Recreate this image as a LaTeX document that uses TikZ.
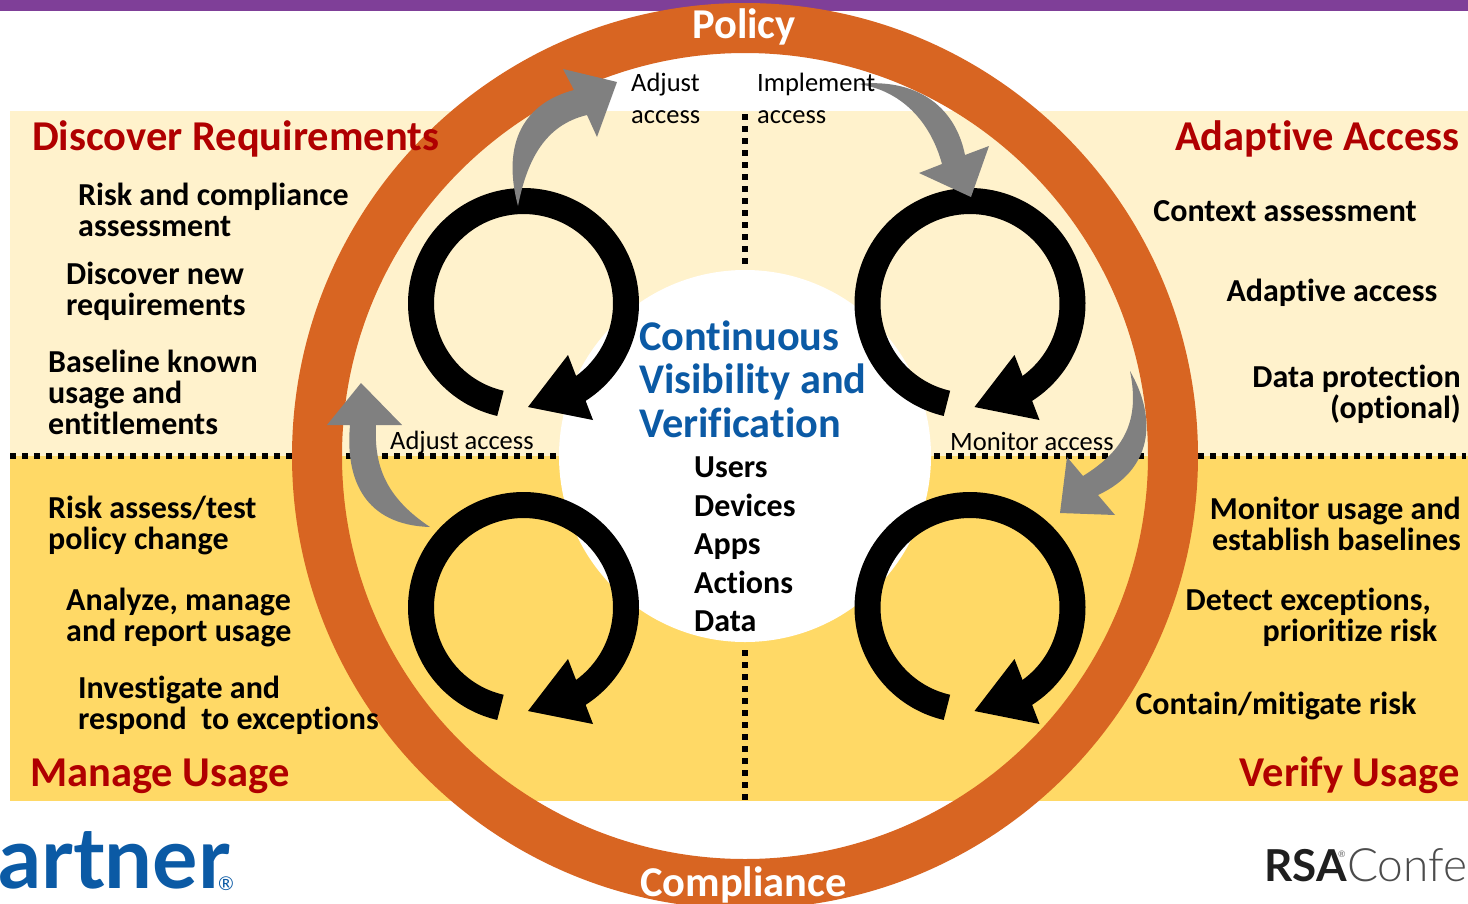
\documentclass[tikz,border=0pt]{standalone}
\usepackage{fontspec}
\setmainfont{Carlito}[Ligatures={NoCommon,TeX}]
\newfontfamily\logofont{Lato}
\newfontfamily\lightfont{Lato Light}
\definecolor{purplebar}{HTML}{7F3F98}
\definecolor{ringor}{HTML}{D86522}
\definecolor{lightband}{HTML}{FFF2CC}
\definecolor{darkband}{HTML}{FFD966}
\definecolor{headred}{HTML}{B00000}
\definecolor{blueh}{HTML}{0B5AA5}
\definecolor{grayarrow}{HTML}{808080}
\newcommand{\px}[1]{\fontsize{#1}{#1}\selectfont}
\tikzset{
  headtext/.style={inner sep=0pt,font=\px{42.5}\bfseries,text=headred},
  bodyl/.style={inner sep=0pt,anchor=west,align=left,font=\fontsize{32}{31}\selectfont\bfseries},
  bodyr/.style={inner sep=0pt,anchor=east,align=right,font=\fontsize{32}{31}\selectfont\bfseries},
  regtext/.style={inner sep=0pt,anchor=west,align=left,font=\fontsize{26.5}{32}\selectfont},
  dotline/.style={line width=5.5pt,dash pattern=on 6pt off 6pt},
  blackring/.style={line width=26pt,black},
  blackhead/.style={fill=black,draw=none},
  grayshape/.style={fill=grayarrow,draw=none},
  ringtext/.style={inner sep=0pt,text=white,font=\px{42.5}\bfseries},
  itemtext/.style={inner sep=0pt,anchor=base west,font=\px{32}\bfseries},
}
\begin{document}
\begin{tikzpicture}[x=1pt,y=-1pt]
\useasboundingbox (0,0) rectangle (1468,903);
\fill[white] (0,0) rectangle (1468,903);
\fill[purplebar] (0,0) rectangle (1468,11);
\fill[lightband] (10,111) rectangle (1468,456);
\fill[darkband] (10,456) rectangle (1468,800.5);
% dotted dividers
\coordinate (hl) at (10,456); \coordinate (hr) at (1466,456);
\coordinate (vt) at (745,114); \coordinate (vtb) at (745,268);
\coordinate (vb) at (745,650); \coordinate (vbb) at (745,802);
\draw[dotline] (hl) -- (hr);
\draw[dotline] (vt) -- (vtb);
\draw[dotline] (vb) -- (vbb);
% centre and ring
\coordinate (cc) at (745,456);
\fill[white] (cc) circle[radius=186];
\begin{scope}
\clip (0,0) rectangle (1468,903);
\draw[ringor,line width=50pt] (cc) circle[radius=428];
\end{scope}
% black cycles
\foreach \cx/\cy in {523.5/303.5,970/303.5,523.5/607.5,970/607.5}{
  \draw[blackring] plot[smooth,domain=103:420,samples=80] ({\cx+102.5*cos(\x)},{\cy+102.5*sin(\x)});
  \fill[blackhead] (\cx+4.5,\cy+103.5) -- (\cx+44.5,\cy+51.5) -- (\cx+69.5,\cy+116.5) -- cycle;
}
% grey arrows
\fill[grayshape] (518,206) .. controls (503,150) and (518,105) .. (574,90) -- (563,69) -- (617,82) -- (597,137) -- (587,115) .. controls (545,125) and (527,160) .. cycle;
\fill[grayshape] (858,84) .. controls (915,78) and (955,105) .. (965,155) -- (989,146) -- (971,197) -- (919,173) -- (942,164) .. controls (930,120) and (900,90) .. cycle;
\fill[grayshape] (430,527) .. controls (365,525) and (345,480) .. (350,425) -- (327,425) -- (361,383) -- (402,425) -- (376,425) .. controls (374,465) and (385,497) .. cycle;
\fill[grayshape] (1130,371) .. controls (1158,420) and (1152,470) .. (1098,495) -- (1115,515) -- (1060,513) -- (1067,457) -- (1083,476) .. controls (1125,450) and (1140,420) .. cycle;
% ring labels
\node[ringtext,anchor=base] (policy) at (744,38) {Policy};
\node[ringtext,anchor=base] (compl) at (743.5,896) {Compliance};
% headings
\node[headtext,anchor=base west] (h1) at (32,150) {Discover Requirements};
\node[headtext,anchor=base east] (h2) at (1460,150) {Adaptive Access};
\node[headtext,anchor=base west] (h3) at (30,786) {Manage Usage};
\node[headtext,anchor=base east] (h4) at (1460,786) {Verify Usage};
% left text
\node[bodyl] (l1) at (78,209.5) {Risk and compliance\\assessment};
\node[bodyl] (l2) at (66,291.5) {Discover new\\requirements};
\node[bodyl] (l3) at (48,392) {Baseline known\\usage and\\entitlements};
\node[bodyl] (l4) at (48,525) {Risk assess/test\\policy change};
\node[bodyl] (l5) at (66,617) {Analyze, manage\\and report usage};
\node[bodyl] (l6) at (78,705) {Investigate and\\respond\ \ to exceptions};
% right text
\node[bodyr] (r1) at (1417,211) {Context assessment};
\node[bodyr] (r2) at (1437.5,293) {Adaptive access};
\node[bodyr] (r3) at (1461,394.5) {Data protection\\(optional)};
\node[bodyr] (r4) at (1461,524) {Monitor usage and\\establish baselines};
\node[bodyr] (r5) at (1437.5,617) {Detect exceptions,\hspace*{6.5pt}\\prioritize risk};
\node[bodyr] (r6) at (1416.5,706) {Contain/mitigate risk};
% flow labels
\node[regtext] (f1) at (631,98) {Adjust\\access};
\node[regtext] (f2) at (757,98) {Implement\\access};
\node[regtext] (f3) at (390,443) {Adjust access};
\node[regtext] (f4) at (950,441) {Monitor access};
% centre text
\node[inner sep=0pt,anchor=west,align=left,text=blueh,font=\fontsize{42.3}{43.5}\selectfont\bfseries] (ctitle) at (639,379) {Continuous\\Visibility and\\Verification};
\node[itemtext] (i1) at (694,477) {Users};
\node[itemtext] (i2) at (694,516) {Devices};
\node[itemtext] (i3) at (694,554) {Apps};
\node[itemtext] (i4) at (694,593) {Actions};
\node[itemtext] (i5) at (694,631) {Data};
% logos
\begin{scope}
\clip (0,0) rectangle (1468,903);
\node[inner sep=0pt,anchor=base west,text=blueh,font=\logofont\px{85}\bfseries] (gart) at (-2,888) {artner};
\node[inner sep=0pt,anchor=base west,text=blueh,font=\logofont\px{19}] (reg) at (218,890) {®};
\node[inner sep=0pt,anchor=base west,text=black!88,font=\logofont\px{44}\bfseries] (rsa) at (1264,881) {RSA};
\node[inner sep=0pt,anchor=base west,text=black!60,font=\logofont\px{9}] (rsareg) at (1338,857) {®};
\node[inner sep=0pt,anchor=base west,text=black!70,font=\lightfont\px{46}] (conf) at (1347,881) {Confe};
\end{scope}
\end{tikzpicture}
\end{document}
